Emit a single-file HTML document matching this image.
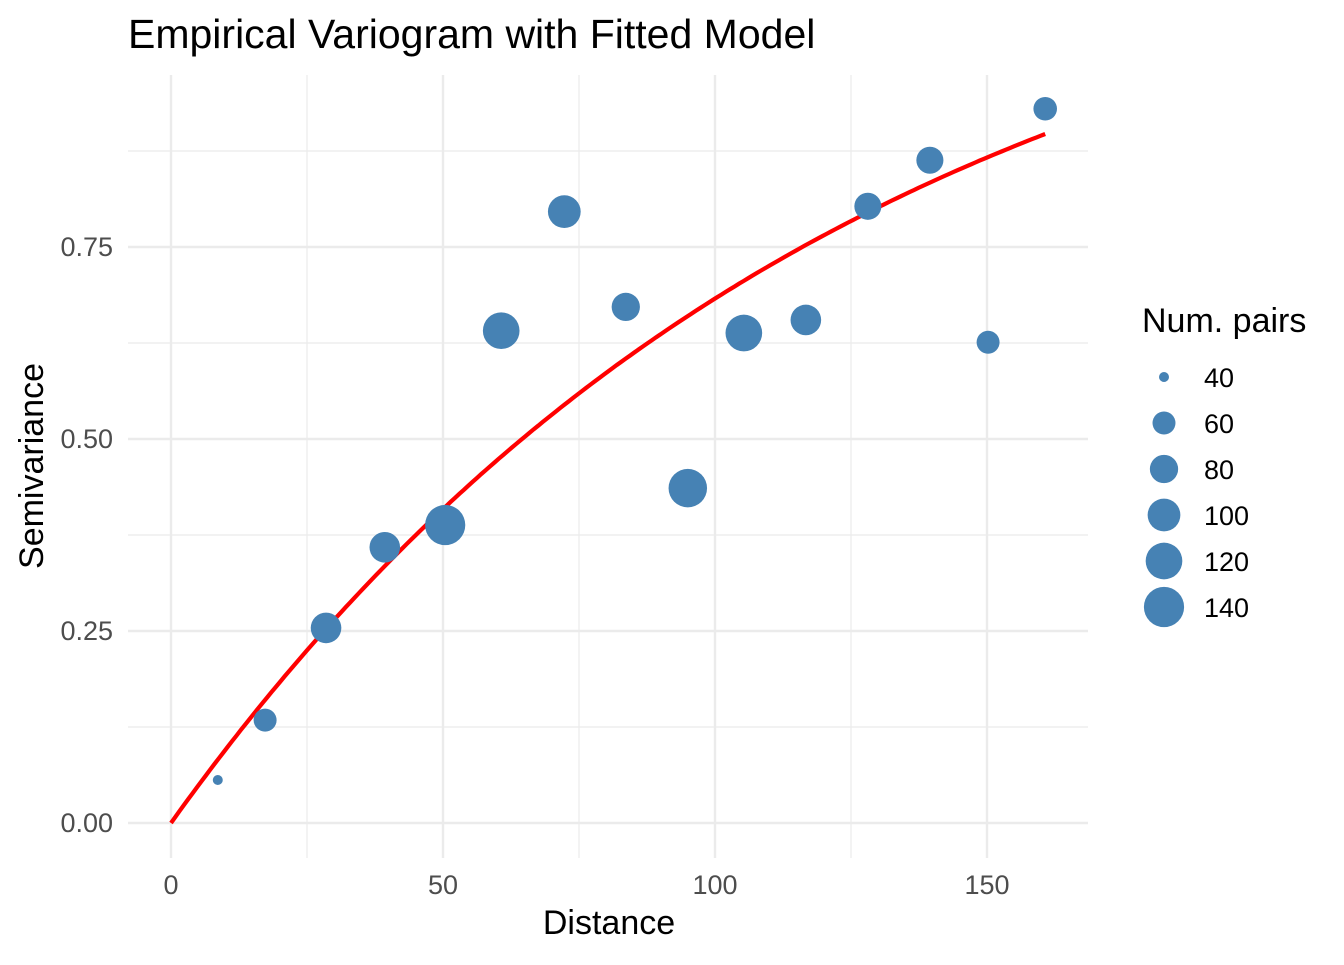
<!DOCTYPE html>
<html><head><meta charset="utf-8"><style>
body{margin:0;background:#fff;font-family:"Liberation Sans",sans-serif}
</style></head><body>
<svg id="chart" width="1344" height="960" xmlns="http://www.w3.org/2000/svg">
<text x="128" y="48" font-size="41" fill="#000">Empirical Variogram with Fitted Model</text>
<g id="grid"></g><g id="curve"></g><g id="pts"></g><g id="axes"></g>
<text x="609" y="934" font-size="34" text-anchor="middle">Distance</text>
<text transform="translate(43,466) rotate(-90)" font-size="34" text-anchor="middle">Semivariance</text>
<text x="1142" y="332" font-size="34">Num. pairs</text>
<g id="legend"></g>
</svg>
<script>
const distances=[8.6,17.3,28.5,39.3,50.4,60.7,72.3,83.6,95.0,105.3,116.7,128.1,139.5,150.2,160.7];
const gammas=[0.056,0.134,0.254,0.359,0.388,0.641,0.796,0.672,0.436,0.638,0.655,0.803,0.863,0.626,0.930];
const npairs=[40,60,90,90,140,120,100,80,130,120,90,75,75,60,62];
const xTicks=[0,50,100,150];
const yTicks=[0,0.25,0.5,0.75];
const yTickLabels=["0.00","0.25","0.50","0.75"];
const legendValues=[40,60,80,100,120,140];
const modelSill=1.24, modelRange=125;
const NS="http://www.w3.org/2000/svg";
const X=v=>171+v*5.44, Y=v=>823-v*768;
const R=n=>Math.sqrt(n<60?Math.max(16,25+5.35*(n-40)):132+3.4*(n-60));
function el(t,a,p){const e=document.createElementNS(NS,t);for(const k in a)e.setAttribute(k,a[k]);document.getElementById(p).appendChild(e);return e;}
const L=128,Rt=1088,T=75,B=858;
[25,75,125].forEach(v=>{const e=el('line',{x1:X(v),x2:X(v),y1:T,y2:B,stroke:'#ebebeb','stroke-width':1.2},'grid');
});
[0.125,0.375,0.625,0.875].forEach(v=>{const e=el('line',{x1:L,x2:Rt,y1:Y(v),y2:Y(v),stroke:'#ebebeb','stroke-width':1.2},'grid');
});
xTicks.forEach(v=>{const e=el('line',{x1:X(v),x2:X(v),y1:T,y2:B,stroke:'#ebebeb','stroke-width':2.4},'grid');

const t=el('text',{x:X(v),y:894,'font-size':27,fill:'#4d4d4d','text-anchor':'middle'},'axes');t.textContent=v;
});
yTicks.forEach((v,i)=>{const e=el('line',{x1:L,x2:Rt,y1:Y(v),y2:Y(v),stroke:'#ebebeb','stroke-width':2.4},'grid');

const t=el('text',{x:113,y:Y(v)+9,'font-size':27,fill:'#4d4d4d','text-anchor':'end'},'axes');t.textContent=yTickLabels[i];
});
let d='';for(let i=0;i<=200;i++){const x=160.7*i/200;const y=modelSill*(1-Math.exp(-x/modelRange));d+=(i?'L':'M')+X(x).toFixed(1)+','+Y(y).toFixed(1);}
const c=el('path',{d:d,fill:'none',stroke:'#ff0000','stroke-width':4.2},'curve');

distances.forEach((x,i)=>{const p=el('circle',{cx:X(x),cy:Y(gammas[i]),r:R(npairs[i]),fill:'#4682b4'},'pts');
});
legendValues.forEach((n,i)=>{const cy=377+i*46;
const p=el('circle',{cx:1164,cy:cy,r:R(n),fill:'#4682b4'},'legend');

const t=el('text',{x:1204,y:cy+10,'font-size':27},'legend');t.textContent=n;
});
</script>
</body></html>
